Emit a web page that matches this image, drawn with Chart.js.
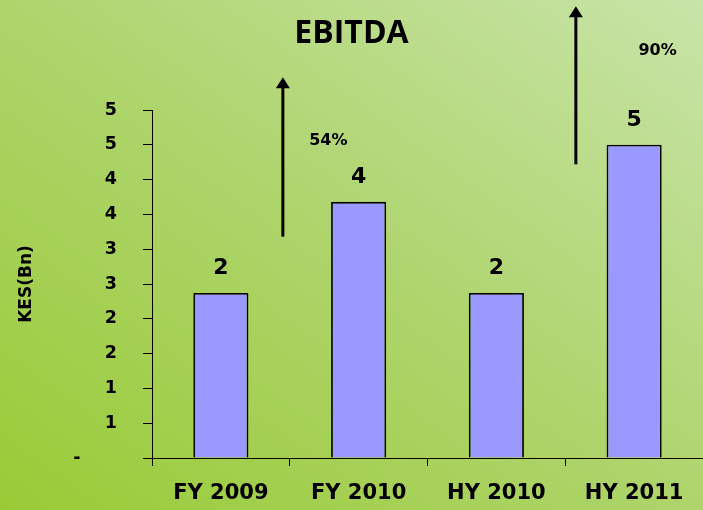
<!DOCTYPE html>
<html>
<head>
<meta charset="utf-8">
<script src="https://cdn.jsdelivr.net/npm/chart.js@4.4.1/dist/chart.umd.min.js"></script>
<style>
  html, body { margin: 0; padding: 0; }
  body {
    width: 703px; height: 510px; overflow: hidden;
    background: linear-gradient(to top right, #9acb36 0%, #aed46c 50%, #c8e4a8 100%);
  }
  #wrap { width: 703px; height: 510px; position: relative; }
</style>
</head>
<body>
<div id="wrap"><canvas id="ebitdaChart"></canvas></div>
<script>
// EBITDA, KES (Bn)
const categories = ['FY 2009', 'FY 2010', 'HY 2010', 'HY 2011'];
const ebitda = [2.37, 3.68, 2.37, 4.5];
const growthLabels = ['54%', '90%'];

// growth arrows, in category index / value units
const growthMarks = [
  { x: 0.45, from: 3.18, to: 5.47, labelX: 0.78, labelY: 4.56 },
  { x: 2.577, from: 4.22, to: 6.49, labelX: 3.17, labelY: 5.85 }
];

const FONT = '"DejaVu Sans", Verdana, sans-serif';

const annotatePlugin = {
  id: 'annotate',
  afterDatasetsDraw(chart) {
    const { ctx, scales: { x, y } } = chart;
    ctx.save();
    ctx.fillStyle = '#000';
    ctx.textAlign = 'center';
    ctx.textBaseline = 'middle';

    // value labels above bars
    ctx.font = 'bold 22px ' + FONT;
    ebitda.forEach((v, i) => {
      ctx.fillText(String(Math.round(v)), x.getPixelForValue(i), y.getPixelForValue(v) - 25);
    });

    // growth arrows
    growthMarks.forEach((g, i) => {
      const px = x.getPixelForValue(g.x);
      const yb = y.getPixelForValue(g.from);
      const yt = y.getPixelForValue(g.to);
      ctx.strokeStyle = '#000';
      ctx.lineWidth = 3;
      ctx.beginPath();
      ctx.moveTo(px, yb);
      ctx.lineTo(px, yt + 8);
      ctx.stroke();
      ctx.beginPath();
      ctx.moveTo(px, yt);
      ctx.lineTo(px - 7, yt + 11);
      ctx.lineTo(px + 7, yt + 11);
      ctx.closePath();
      ctx.fill();

      ctx.font = 'bold 16px ' + FONT;
      ctx.fillText(growthLabels[i], x.getPixelForValue(g.labelX), y.getPixelForValue(g.labelY));
    });
    ctx.restore();
  }
};

new Chart(document.getElementById('ebitdaChart'), {
  type: 'bar',
  data: {
    labels: categories,
    datasets: [{
      label: 'EBITDA',
      data: ebitda,
      backgroundColor: '#9999ff',
      borderColor: '#000',
      borderWidth: 1.8,
      categoryPercentage: 1,
      barPercentage: 0.4
    }]
  },
  options: {
    responsive: true, maintainAspectRatio: false,
    animation: false,
    layout: { padding: 0 },
    plugins: {
      legend: { display: false },
      tooltip: { enabled: false },
      title: {
        display: true,
        text: 'EBITDA',
        color: '#000',
        font: { family: '"Open Sans", sans-serif', size: 32, weight: 'bold' },
        padding: { top: 14.8, bottom: 56.8 }
      }
    },
    scales: {
      y: {
        min: 0, max: 5,
        afterFit(scale) { scale.width = 152; },
        border: { display: true, color: '#000', width: 1 },
        grid: { drawOnChartArea: false, drawTicks: true, tickLength: 9, color: '#000' },
        ticks: {
          stepSize: 0.5,
          padding: 26,
          color: '#000',
          font: { family: FONT, size: 17.5, weight: 'bold' },
          callback: v => v === 0 ? '-      ' : String(Math.round(v))
        },
        title: {
          display: true,
          text: 'KES(Bn)',
          color: '#000',
          font: { family: FONT, size: 17, weight: 'bold' },
          padding: { top: 16.8, bottom: 0 }
        }
      },
      x: {
        afterFit(scale) { scale.height = 52; },
        border: { display: true, color: '#000', width: 1 },
        grid: { offset: true, drawOnChartArea: false, drawTicks: true, tickLength: 8, color: '#000' },
        ticks: {
          padding: 15,
          color: '#000',
          maxRotation: 0,
          font: { family: FONT, size: 21, weight: 'bold' }
        }
      }
    }
  },
  plugins: [annotatePlugin]
});
</script>
</body>
</html>
